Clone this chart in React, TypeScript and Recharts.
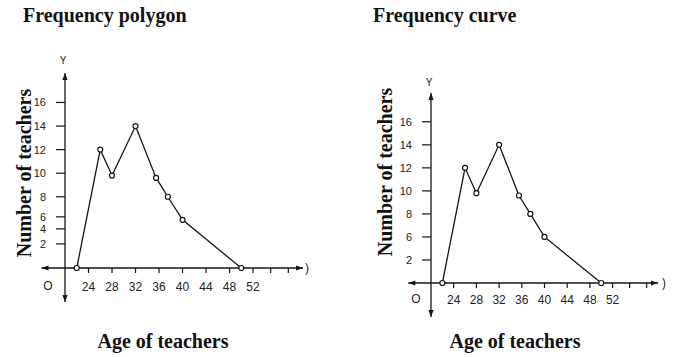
import React from 'react';
import { LineChart, Line, XAxis, YAxis, ReferenceLine, ReferenceDot } from 'recharts';

// ages (class marks), teachers
const ages = [22, 26, 28, 32, 35.5, 37.5, 40, 50];
const polygonTeachers = [0, 12, 9.8, 14, 9.6, 8, 5.5, 0];
const curveTeachers = [0, 12, 9.8, 14, 9.6, 8, 6, 0];

const ageTicks = [24, 28, 32, 36, 40, 44, 48, 52, 55, 58];
const ageTickLabels = ['24', '28', '32', '36', '40', '44', '48', '52', '', ''];
const polygonCountTicks = [2, 4, 6, 8, 10, 12, 14, 16];
const curveCountTicks = [2, 6, 8, 10, 12, 14, 16];

const INK = '#151515';
const SERIF = '"Liberation Serif", "Times New Roman", serif';
const SANS = '"Liberation Sans", Arial, sans-serif';

// the printed y axis is squeezed below 8, so it is not linear:
// knots are values, heights are px above the x axis in the print
function piecewiseScale(knots: number[], heights: number[]) {
  let dom = [knots[0], knots[knots.length - 1]];
  let rng = [0, 1];
  const at = (v: number) => {
    let i = 0;
    while (i < knots.length - 2 && v > knots[i + 1]) i++;
    const t = (v - knots[i]) / (knots[i + 1] - knots[i]);
    return heights[i] + t * (heights[i + 1] - heights[i]);
  };
  const s: any = (v: number) => {
    const p0 = at(dom[0]);
    const p1 = at(dom[dom.length - 1]);
    return rng[0] + ((at(v) - p0) / (p1 - p0)) * (rng[1] - rng[0]);
  };
  s.domain = (d?: number[]) => {
    if (d === undefined) return dom;
    dom = [Number(d[0]), Number(d[d.length - 1])];
    return s;
  };
  s.range = (r?: number[]) => {
    if (r === undefined) return rng;
    rng = [Number(r[0]), Number(r[r.length - 1])];
    return s;
  };
  s.copy = () => piecewiseScale(knots, heights).domain(dom).range(rng);
  s.ticks = () => knots.filter((k) => k >= dom[0] && k <= dom[1]);
  s.invert = (px: number) => {
    const p0 = at(dom[0]);
    const p1 = at(dom[1]);
    const h = p0 + ((px - rng[0]) / (rng[1] - rng[0])) * (p1 - p0);
    let i = 0;
    while (i < heights.length - 2 && h > heights[i + 1]) i++;
    return knots[i] + ((h - heights[i]) / (heights[i + 1] - heights[i])) * (knots[i + 1] - knots[i]);
  };
  return s;
}

const polygonScale = piecewiseScale([-3, 0, 2, 4, 6, 8, 16], [-34, 0, 24, 39, 51, 71, 165]);
const curveScale = piecewiseScale([-3, 0, 2, 6, 8, 16], [-34, 0, 23, 46, 69, 161]);

const arrow = (dir: 'left' | 'right' | 'up' | 'down') => (p: any) => {
  const { cx, cy } = p;
  const L = 7;
  const W = 2.6;
  let d = '';
  if (dir === 'right') d = `M${cx},${cy} L${cx - L},${cy - W} L${cx - L},${cy + W} Z`;
  if (dir === 'left') d = `M${cx},${cy} L${cx + L},${cy - W} L${cx + L},${cy + W} Z`;
  if (dir === 'up') d = `M${cx},${cy} L${cx - W},${cy + L} L${cx + W},${cy + L} Z`;
  if (dir === 'down') d = `M${cx},${cy} L${cx - W},${cy - L} L${cx + W},${cy - L} Z`;
  return <path d={d} fill={INK} />;
};

interface PanelProps {
  left: number;
  width: number;
  teachers: number[];
  countTicks: number[];
  yScale: any;
  xMax: number;
  margin: { top: number; right: number; bottom: number; left: number };
  xTickMargin: number;
  yTickMargin: number;
}

const X_MIN = 16;
const Y_AXIS_AT = 20;
const Y_MAX = 18.5;
const Y_MIN = -3;

const Panel = ({ left, width, teachers, countTicks, yScale, xMax, margin, xTickMargin, yTickMargin }: PanelProps) => {
  const data = ages.map((age, i) => ({ age, teachers: teachers[i] }));
  return (
    <div style={{ position: 'absolute', left, top: 0, width, height: 357 }}>
      <LineChart width={width} height={357} data={data} margin={margin}>
        <XAxis
          dataKey="age"
          type="number"
          domain={[Y_AXIS_AT, xMax]}
          ticks={ageTicks}
          interval={0}
          tickFormatter={(v: number) => ageTickLabels[ageTicks.indexOf(v)] ?? ''}
          axisLine={false}
          tickLine={{ stroke: INK, strokeWidth: 1.2 }}
          tickSize={5}
          tickMargin={xTickMargin}
          tick={{ fill: '#222', fontSize: 12, fontFamily: SANS }}
        />
        <YAxis
          type="number"
          width={40}
          domain={[0, Y_MAX]}
          scale={yScale}
          ticks={countTicks}
          interval={0}
          axisLine={false}
          tickLine={{ stroke: INK, strokeWidth: 1.2 }}
          tickSize={9}
          tickMargin={yTickMargin}
          tick={{ fill: '#222', fontSize: 11, fontFamily: SANS }}
        />
        <ReferenceLine
          segment={[{ x: X_MIN, y: 0 }, { x: xMax, y: 0 }]}
          stroke={INK}
          strokeWidth={1.3}
          ifOverflow="visible"
        />
        <ReferenceLine
          segment={[{ x: Y_AXIS_AT, y: Y_MIN }, { x: Y_AXIS_AT, y: Y_MAX }]}
          stroke={INK}
          strokeWidth={1.3}
          ifOverflow="visible"
        />
        <ReferenceDot x={xMax} y={0} ifOverflow="visible" shape={arrow('right')} />
        <ReferenceDot x={X_MIN} y={0} ifOverflow="visible" shape={arrow('left')} />
        <ReferenceDot x={Y_AXIS_AT} y={Y_MAX} ifOverflow="visible" shape={arrow('up')} />
        <ReferenceDot x={Y_AXIS_AT} y={Y_MIN} ifOverflow="visible" shape={arrow('down')} />
        <Line
          type="linear"
          dataKey="teachers"
          stroke={INK}
          strokeWidth={1.3}
          dot={{ r: 2.5, stroke: INK, strokeWidth: 1.2, fill: '#fff' }}
          activeDot={false}
          isAnimationActive={false}
        />
      </LineChart>
    </div>
  );
};

export default function App() {
  return (
    <div style={{ position: 'absolute', left: 0, top: 0, width: 678, height: 357, background: '#fff', overflow: 'hidden' }}>
      <Panel
        left={0}
        width={340}
        teachers={polygonTeachers}
        countTicks={polygonCountTicks}
        yScale={polygonScale}
        xMax={60.5}
        margin={{ top: 73, right: 37, bottom: 59, left: 25 }}
        xTickMargin={9}
        yTickMargin={10}
      />
      <Panel
        left={340}
        width={338}
        teachers={curveTeachers}
        countTicks={curveCountTicks}
        yScale={curveScale}
        xMax={60}
        margin={{ top: 93, right: 20, bottom: 44, left: 51 }}
        xTickMargin={7}
        yTickMargin={10}
      />
      <svg width={678} height={357} style={{ position: 'absolute', left: 0, top: 0, pointerEvents: 'none' }}>
        <g fontFamily={SERIF} fontWeight="bold" fontSize={20} fill="#111">
          <text x={23} y={22}>Frequency polygon</text>
          <text x={373} y={22}>Frequency curve</text>
          <text x={163} y={348} textAnchor="middle">Age of teachers</text>
          <text x={515} y={348} textAnchor="middle">Age of teachers</text>
          <text transform="translate(31,173) rotate(-90)" textAnchor="middle">Number of teachers</text>
          <text transform="translate(392,172) rotate(-90)" textAnchor="middle">Number of teachers</text>
        </g>
        <g fontFamily={SANS} fill="#222">
          <text x={63} y={64} fontSize={10} textAnchor="middle">Y</text>
          <text x={429} y={86} fontSize={10} textAnchor="middle">Y</text>
          <text x={48} y={290} fontSize={12} textAnchor="middle">O</text>
          <text x={416} y={303} fontSize={12} textAnchor="middle">O</text>
          <text x={307} y={272} fontSize={12} textAnchor="middle">)</text>
          <text x={664} y={287} fontSize={12} textAnchor="middle">)</text>
        </g>
      </svg>
    </div>
  );
}
